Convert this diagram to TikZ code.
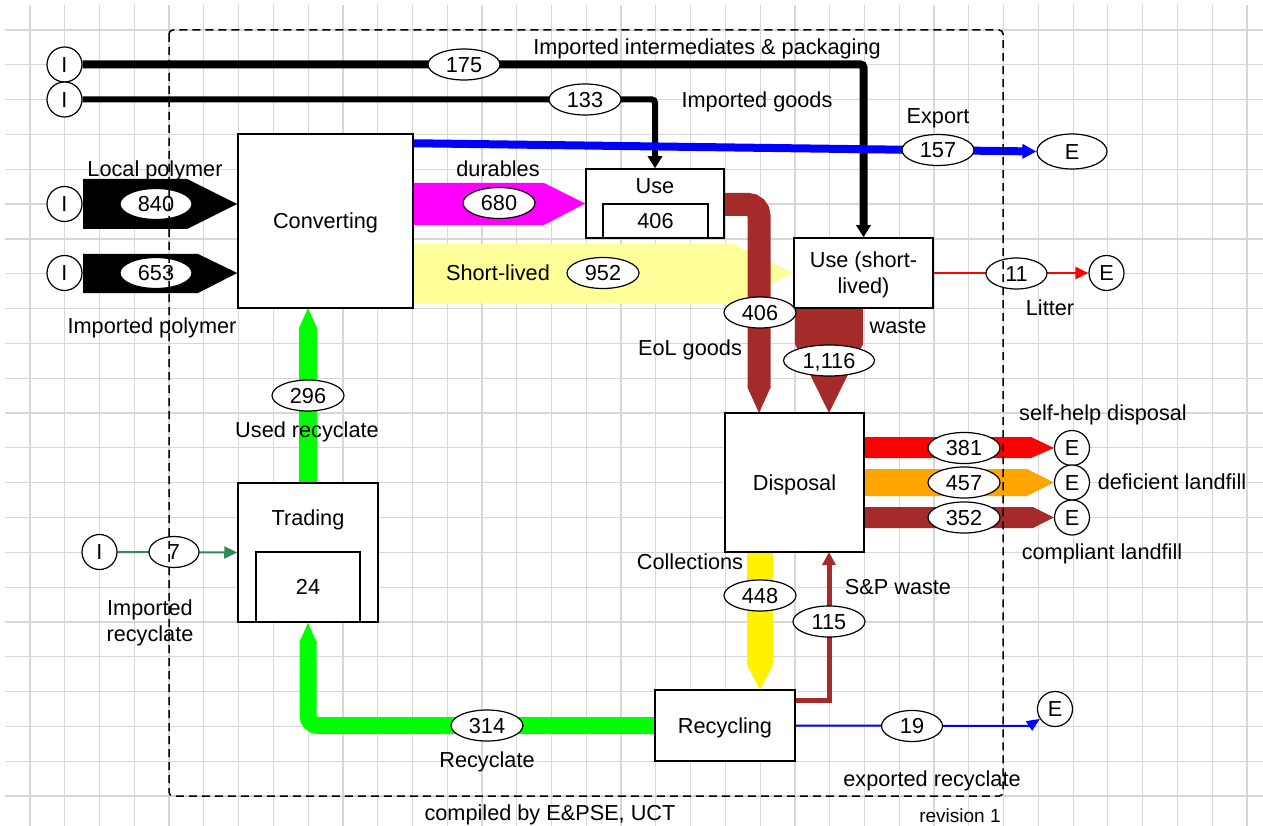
\documentclass[tikz,border=0pt]{standalone}
\usepackage{fontspec}
\setmainfont{Liberation Sans}
\usetikzlibrary{shapes.geometric,arrows.meta,calc}
\definecolor{brn}{RGB}{165,42,42}
\definecolor{lyel}{RGB}{255,255,153}
\definecolor{org}{RGB}{255,165,0}
\definecolor{sgreen}{RGB}{46,139,87}
\definecolor{lgreen}{RGB}{0,255,0}
\definecolor{mag}{RGB}{255,0,255}
\definecolor{gridc}{RGB}{215,215,215}
\pgfdeclarelayer{gridl}
\pgfdeclarelayer{flow}
\pgfdeclarelayer{fg}
\pgfsetlayers{gridl,flow,main,fg}
\begin{document}
\begin{tikzpicture}[x=1pt,y=-1pt, font=\fontsize{21.7}{26}\selectfont,
  box/.style={draw, line width=1.5pt, fill=white, rectangle, inner sep=0pt, text height=15.5pt, text depth=0pt},
  num/.style={draw, ellipse, line width=1.2pt, fill=white, inner sep=0pt, minimum width=72pt, minimum height=31pt, text height=15.6pt, text depth=0pt},
  term/.style={draw, circle, line width=1.2pt, fill=white, inner sep=0pt, minimum size=35pt, text height=15.5pt, text depth=0pt},
  lbl/.style={inner sep=0pt, text height=15.5pt, text depth=0.5pt},
  tip/.style={-{Triangle[length=13pt,width=13pt]}}
]
\useasboundingbox (0,0) rectangle (1263,826);
\begin{pgfonlayer}{gridl}
\fill[white] (0,0) rectangle (1263,826);
\foreach \k in {0,...,35} \draw[gridc, line width=1.2pt] ({30+34.77*\k},5) -- ({30+34.77*\k},826);
\foreach \k in {0,...,22} \draw[gridc, line width=1.2pt] (5,{30+34.82*\k}) -- (1263,{30+34.82*\k});
\end{pgfonlayer}

% boxes
\node[box, minimum width=175pt, minimum height=174pt] (conv) at (325.5,221) {Converting};
\node[box, minimum width=138pt, minimum height=69pt] (use) at (655,203.5) {};
\node[lbl] (uset) at (655,186.5) {Use};
\node[box, minimum width=105pt, minimum height=34pt] (usein) at (655.5,221) {406};
\node[box, minimum width=139pt, minimum height=70pt] (usl) at (863.5,273) {};
\node[inner sep=0pt, align=center] (uslt) at (863.5,275) {Use (short-\\lived)};
\node[box, minimum width=139pt, minimum height=139pt] (disp) at (794.5,482.5) {Disposal};
\node[box, minimum width=140pt, minimum height=139pt] (trad) at (308,552.5) {};
\node[lbl] (tradt) at (308,517.5) {Trading};
\node[box, minimum width=104pt, minimum height=70pt] (tradin) at (308,587) {24};
\node[box, minimum width=140pt, minimum height=71pt] (rec) at (725,725.5) {Recycling};

% terminals
\node[term] (i1) at (64.5,64.5) {I};
\node[term] (i2) at (64.5,99.5) {I};
\node[term] (i3) at (64.5,204) {I};
\node[term] (i4) at (64.5,273) {I};
\node[term] (i5) at (99.5,552) {I};
\node[term, ellipse, minimum width=70pt, minimum height=35pt] (e1) at (1072,151.5) {E};
\node[term] (e2) at (1106.5,273) {E};
\node[term] (e3) at (1072,448) {E};
\node[term] (e4) at (1072,482.5) {E};
\node[term] (e5) at (1072,517.5) {E};
\node[term] (e6) at (1055,709) {E};

% flows
\begin{pgfonlayer}{flow}
\draw[line width=8pt, rounded corners=3pt, -{Triangle[length=12pt,width=14pt]}] (i1.east) -- (863.5,64.5) -- (usl.north);
\draw[line width=6pt, rounded corners=3pt, -{Triangle[length=12pt,width=14pt]}] (i2.east) -- (655,99.5) -- (use.north);
\draw[blue, line width=8pt, -{Triangle[length=14pt,width=14pt]}] ($(conv.north east)+(0,10)$) -- (e1.west);
\fill (83,179) -- (187,179) -- (conv.west |- i3) -- (187,229) -- (83,229) -- cycle;
\fill (83,254) -- (198,254) -- (conv.west |- i4) -- (198,293) -- (83,293) -- cycle;
\fill[mag] (413,183) -- (544,183) -- (use.west) -- (544,225) -- (413,225) -- cycle;
\fill[lyel] (413,244) -- (733,244) -- (usl.west) -- (733,303) -- (413,303) -- cycle;
\draw[brn, line width=23pt, rounded corners=11pt] (724,204.5) -- (759,204.5) -- (759,388);
\fill[brn] (747.5,387.5) -- (770.5,387.5) -- (759,413) -- cycle;
\fill[brn] (795,308) -- (863,308) -- (863,344) -- (829,413) -- (795,344) -- cycle;
\fill[red] (864,437) -- (1031,437) -- (e3.west) -- (1031,458) -- (864,458) -- cycle;
\fill[org] (864,469) -- (1027,469) -- (e4.west) -- (1027,496) -- (864,496) -- cycle;
\fill[brn] (864,507) -- (1033,507) -- (e5.west) -- (1033,528) -- (864,528) -- cycle;
\draw[red, line width=2pt, -{Triangle[length=13pt,width=12pt]}] (usl.east) -- (e2.west);
\fill[yellow] (747,552) -- (773,552) -- (773,665) -- (760,690) -- (747,665) -- cycle;
\draw[brn, line width=5pt, tip] (rec.east |- 0,700) -- (829,700) -- (829,552);
\draw[blue, line width=2pt] (rec.east) -- (1030,726);
\draw[blue, line width=2pt, -{Triangle[length=13pt,width=11pt]}] (1029,726) -- (e6);
\draw[sgreen, line width=2pt, -{Triangle[length=13pt,width=12pt]}] (i5) -- (trad.west);
\draw[lgreen, line width=17pt, rounded corners=10pt] (rec.west) -- (308,725.5) -- (308,641);
\fill[lgreen] (299.5,642) -- (316.5,642) -- (trad.south) -- cycle;
\fill[lgreen] (299,483) -- (317,483) -- (317,328) -- (308,308) -- (299,328) -- cycle;
\end{pgfonlayer}

% flow values
\node[num] (n175) at (464,64.5) {175};
\node[num] (n133) at (585,99.5) {133};
\node[num] (n157) at (938,150) {157};
\node[num] (n840) at (156,204) {840};
\node[num] (n653) at (156,273) {653};
\node[num] (n680) at (499,203) {680};
\node[num] (n952) at (603,273) {952};
\node[num] (n406) at (760,312.5) {406};
\node[num, minimum width=91pt] (n1116) at (829,360.5) {1,116};
\node[num, minimum width=61pt] (n11) at (1016.5,273.5) {11};
\node[num] (n381) at (964,448) {381};
\node[num] (n457) at (964,482.5) {457};
\node[num] (n352) at (964,517.5) {352};
\node[num] (n448) at (760,595.5) {448};
\node[num] (n115) at (829,621.5) {115};
\node[num] (n296) at (308,395.5) {296};
\node[num, minimum width=50pt] (n7) at (174,552) {7};
\node[num] (n314) at (487,725.5) {314};
\node[num, minimum width=61pt] (n19) at (912,726) {19};

% labels
\node[lbl] (l1) at (707,47) {Imported intermediates \& packaging};
\node[lbl] (l2) at (757,100) {Imported goods};
\node[lbl] (l3) at (938,116) {Export};
\node[lbl] (l4) at (498,169) {durables};
\node[lbl] (l5) at (498,273) {Short-lived};
\node[lbl] (l6) at (155,169) {Local polymer};
\node[lbl] (l7) at (152,326) {Imported polymer};
\node[lbl] (l8) at (690,348) {EoL goods};
\node[lbl] (l9) at (898,326) {waste};
\node[lbl] (l10) at (1050,308) {Litter};
\node[lbl] (l11) at (1103,413) {self-help disposal};
\node[lbl] (l12) at (1172,482) {deficient landfill};
\node[lbl] (l13) at (1102,552) {compliant landfill};
\node[lbl] (l14) at (690,562) {Collections};
\node[lbl] (l15) at (898,587) {S\&P waste};
\node[lbl] (l16) at (307,430) {Used recyclate};
\node[inner sep=0pt, align=center] (l17) at (150,623) {Imported\\recyclate};
\node[lbl] (l18) at (487,760) {Recyclate};
\node[lbl] (l19) at (932,779) {exported recyclate};
\node[lbl] (l20) at (550,813) {compiled by E\&PSE, UCT};
\node[lbl, font=\fontsize{19}{22}\selectfont] (l21) at (960,815) {revision 1};

\begin{pgfonlayer}{fg}
\draw[dash pattern=on 8pt off 5pt, line width=1.5pt, rounded corners=4pt] (169,30) rectangle (1003,796);
\end{pgfonlayer}
\end{tikzpicture}
\end{document}
